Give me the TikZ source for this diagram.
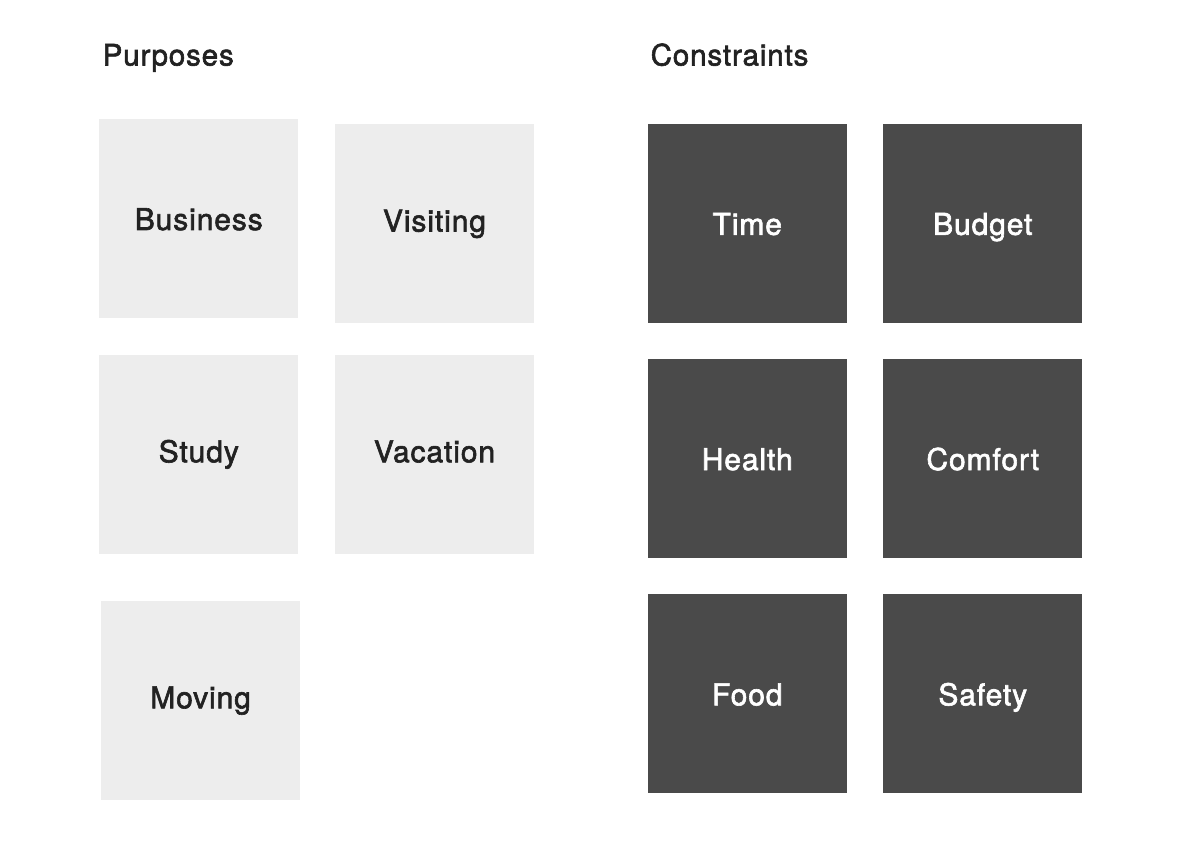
\documentclass[tikz,border=0pt]{standalone}
\usepackage{fontspec}
\setmainfont{TeX Gyre Heros}
\newfontfamily\labfont[LetterSpace=3,FakeBold=2]{TeX Gyre Heros}
\begin{document}
\begin{tikzpicture}[x=1pt,y=-1pt,
  box/.style={draw=none,minimum width=199pt,minimum height=199pt,inner sep=0pt,text depth=0pt,text height=23pt,font=\labfont\fontsize{30}{34}\selectfont},
  lightbox/.style={box,fill=lightgray1,text=txtdark},
  darkbox/.style={box,fill=darkgray1,text=white},
  low/.style={text height=16.5pt},
  title/.style={anchor=base west,inner sep=0pt,text=txtdark,font=\labfont\fontsize{29.5}{34}\selectfont}]
\definecolor{lightgray1}{HTML}{EDEDED}
\definecolor{darkgray1}{HTML}{4A4A4A}
\definecolor{txtdark}{HTML}{222222}
\useasboundingbox[fill=white] (0,0) rectangle (1200,845);
\node[title] (purposes) at (102.5,65.5) {Purposes};
\node[title] (constraints) at (650.5,65.5) {Constraints};
\node[lightbox] (business) at (198.8,218.5) {Business};
\node[lightbox,low] (visiting) at (434.5,223.3) {Visiting};
\node[lightbox,low] (study) at (198.8,454) {Study};
\node[lightbox,low] (vacation) at (434.5,454) {Vacation};
\node[lightbox,low] (moving) at (200.6,700) {Moving};
\node[darkbox] (time) at (747.3,223.3) {Time};
\node[darkbox] (budget) at (982.8,223.3) {Budget};
\node[darkbox] (health) at (747.3,458.5) {Health};
\node[darkbox] (comfort) at (982.8,458.5) {Comfort};
\node[darkbox] (food) at (747.3,693.8) {Food};
\node[darkbox] (safety) at (982.8,693.8) {Safety};
\end{tikzpicture}
\end{document}
